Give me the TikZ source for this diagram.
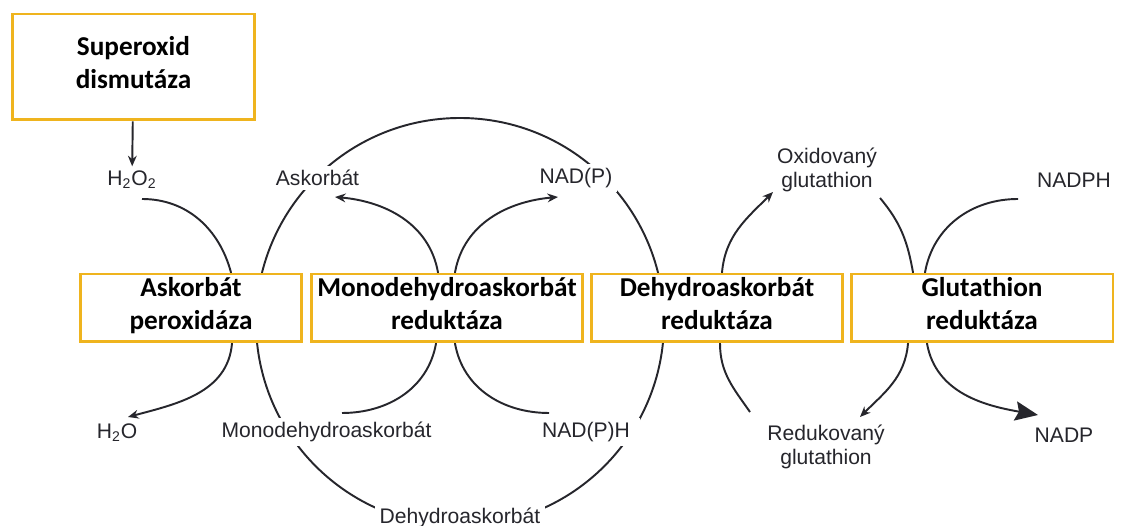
\documentclass[tikz,border=0pt]{standalone}
\usepackage{fontspec}
\setmainfont{Liberation Sans}
\newfontfamily\calibri{Carlito}
\usetikzlibrary{arrows.meta,calc,backgrounds}

\definecolor{enzgold}{RGB}{239,180,30}
\definecolor{ink}{RGB}{38,38,44}

\tikzset{
	enzyme/.style={
		draw=enzgold, line width=1.7pt, fill=white, align=center,
		minimum height=1.36cm, inner sep=0pt, text height=27.4pt, text depth=3pt,
		font=\calibri\bfseries\fontsize{15.5}{18.7}\selectfont
	},
	chem/.style={
		fill=white, inner sep=2.5pt, align=center, text=ink,
		font=\fontsize{12}{13.6}\selectfont
	},
	flow/.style={line width=1.1pt, draw=ink},
}

\begin{document}
\begin{tikzpicture}[x=0.02cm, y=0.02cm, >={Stealth[length=6pt,width=5pt]}]
\useasboundingbox (0,0) rectangle (1121,526);

% enzymes
\node[enzyme, minimum width=4.86cm, minimum height=2.12cm] (sod) at (133.5,459) {Superoxid\\dismutáza};
\foreach \name/\x/\w/\txt in {
	apx/191/4.44/{Askorbát\\peroxidáza},
	mdhar/447/5.44/{Monodehydroaskorbát\\reduktáza},
	dhar/717/5.04/{Dehydroaskorbát\\reduktáza},
	gr/982/5.24/{Glutathion\\reduktáza}}
	\node[enzyme, minimum width=\w cm] (\name) at (\x,218) {\txt};

% metabolites
\foreach \name/\x/\y/\txt in {
	h2o2/132/346/{H\textsubscript{2}O\textsubscript{2}},
	asc/317.5/348/Askorbát,
	nadpa/576/348/NAD(P),
	gssg/827/356/{Oxidovaný\\glutathion},
	nadphb/1074/346/NADPH,
	h2o/117/93/{H\textsubscript{2}O},
	mdha/326.5/94/Monodehydroaskorbát,
	gsh/826/79/{Redukovaný\\glutathion},
	nadpb/1064/91/NADP,
	dha/460/8/Dehydroaskorbát}
	\node[chem] (\name) at (\x,\y) {\txt};
\node[chem, inner xsep=6pt] (nadpha) at (586,94) {NAD(P)H};

\coordinate (hub) at (460,204);

\begin{scope}[on background layer]
\fill[white] (0,0) rectangle (1121,526);
% ascorbate cycle
\draw[flow] (hub) circle[radius=204];
\draw[flow,->] (sod) -- (h2o2);
\draw[flow,->] ($(h2o2)+(10,-19)$) to[out=0,in=105] ($(apx.north)+(40,0)$)
	-- ($(apx.south)+(41,0)$) to[out=-95,in=15] ($(h2o)+(11,16)$);
\draw[flow,->] ($(mdha)+(15.5,19)$) to[out=0,in=-100] ($(mdhar.south)+(-11,0)$)
	-- ($(mdhar.north)+(-9,0)$) to[out=100,in=-5] ($(asc)+(17.5,-19)$);
\draw[flow,->] ($(nadpha)+(-37,19)$) to[out=180,in=-80] ($(mdhar.south)+(8,0)$)
	-- ($(mdhar.north)+(8,0)$) to[out=80,in=185] ($(nadpa)+(-18,-19)$);
\draw[flow,->] ($(gsh)+(-76,35)$) to[out=125,in=-90] ($(dhar.south)+(3,0)$)
	-- ($(dhar.north)+(5,0)$) to[out=85,in=-135] ($(gssg)+(-54,-22)$);
% glutathione side
\draw[flow,->] ($(gssg)+(53,-28)$) to[out=-50,in=100] ($(gr.north)+(-69,0)$)
	-- ($(gr.south)+(-74,0)$) to[out=-95,in=45] ($(gsh)+(34,30)$);
\draw[flow,-{Stealth[length=13pt,width=11pt,inset=2pt]}] ($(nadphb)+(-56,-19)$) to[out=180,in=80] ($(gr.north)+(-57,0)$)
	-- ($(gr.south)+(-55,0)$) to[out=-80,in=170] ($(nadpb)+(-26,20)$);
\end{scope}
\end{tikzpicture}
\end{document}
